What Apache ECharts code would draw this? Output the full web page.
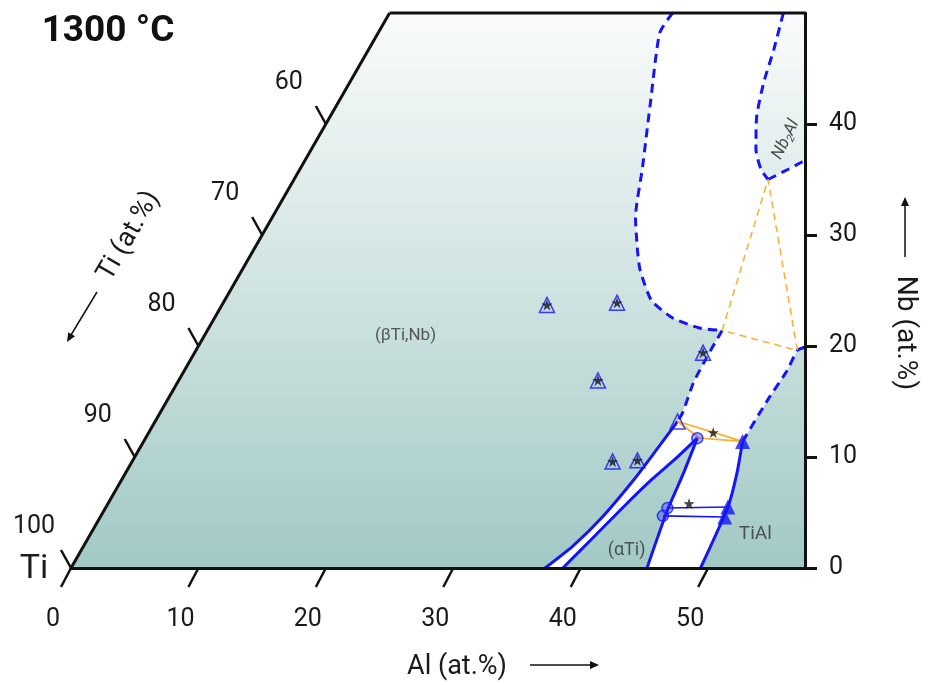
<!DOCTYPE html>
<html>
<head>
<meta charset="utf-8">
<script src="https://cdn.jsdelivr.net/npm/echarts@6/dist/echarts.min.js"></script>
<style>
  html, body { margin: 0; padding: 0; background: #fff; }
  #main { width: 931px; height: 685px; }
</style>
</head>
<body>
<div id="main"></div>
<script>
// all compositions are [Al, Nb] in at.%, Ti = 100 - Al - Nb
const alTicks = [0, 10, 20, 30, 40, 50];
const tiTicks = [100, 90, 80, 70, 60];
const nbTickStep = 10;

// phase boundaries
const betaBoundary = [[22.2, 50], [22.1, 48.2], [24.4, 42.2], [26.8, 36.1], [28.5, 31.6], [30.1, 28.7], [31.2, 26.9], [33.5, 24.1], [36.0, 22.5], [38.6, 21.6], [40.4, 21.4]];
const betaTiAlBoundary = [[40.4, 21.4], [40.4, 19.0], [40.5, 16.7], [41.0, 14.0], [41.0, 13.2]];
const betaAlphaLeft = [[41.0, 13.2], [40.6, 10.5], [40.2, 8.0], [39.4, 4.6], [38.4, 2.0], [37.2, 0]];
const betaAlphaRight = [[43.3, 11.7], [42.5, 9.8], [41.6, 8.0], [40.6, 5.5], [39.7, 3.0], [38.6, 0]];
const alphaTiAl = [[43.3, 11.7], [43.8, 8.5], [44.2, 5.2], [45.2, 0]];
const tiAlLeft = [[47.0, 11.4], [48.0, 8.5], [48.8, 5.5], [49.4, 0]];
const tiAlUpper = [[47.0, 11.4], [47.1, 15.1], [47.3, 17.8], [47.2, 19.6], [47.65, 19.9]];
const nb2AlLeft = [[30.9, 50], [31.8, 46.7], [32.5, 43.7], [33.5, 40.6], [34.9, 37.7], [36.2, 35.9], [37.2, 35.0]];
const nb2AlLower = [[37.2, 35.0], [38.3, 35.9], [39.1, 36.6], [39.25, 36.7]];

// tie triangles and tie lines
const tieTriangleUpper = [[40.4, 21.4], [37.2, 35.0], [47.2, 19.6]];
const tieTriangleLower = [[41.0, 13.2], [43.5, 11.7], [47.0, 11.4]];
const tieLines = [[[44.1, 5.4], [48.8, 5.5]], [[44.1, 4.7], [49.0, 4.6]]];

// alloy compositions / measured phases
const betaSamples = [[25.5, 23.7], [30.9, 23.9], [32.9, 16.9], [39.9, 19.4], [37.7, 9.6], [39.6, 9.7]];
const alloyStars = [[44.3, 12.2], [45.6, 5.8]];
const openTriangles = [[41.0, 13.2]];
const alphaPhase = [[43.3, 11.7], [44.1, 5.4], [44.1, 4.7]];
const tiAlPhase = [[47.0, 11.4], [48.8, 5.5], [49.0, 4.6]];

const XMAX = 57.6;   // right edge in Al + Nb/2
const NBMAX = 50;

const BLUE = '#1515f5';
const ORANGE = '#f5b335';
const FONT = 'Roboto';
const STAR = 'path://M50 0L61.8 35.3L99 35.3L69 57.1L80.4 92.7L50 70.9L19.6 92.7L31 57.1L1 35.3L38.2 35.3Z';

const toXY = p => [p[0] + p[1] / 2, p[1]];
const rev = a => a.slice().reverse();

const whiteRegions = [
  betaBoundary.concat(betaTiAlBoundary.slice(1), tiAlUpper, [[XMAX - 36.7 / 2, 36.7]], rev(nb2AlLower).slice(1), rev(nb2AlLeft).slice(1)),
  betaAlphaLeft.concat(rev(betaAlphaRight)),
  alphaTiAl.concat(rev(tiAlLeft)),
  tieTriangleLower
];

function renderRegions(params, api) {
  const c = p => api.coord(toXY(p));
  const children = [{
    type: 'polygon',
    shape: { points: [c([0, 0]), c([0, NBMAX]), c([XMAX - NBMAX / 2, NBMAX]), c([XMAX, 0])] },
    style: {
      fill: new echarts.graphic.LinearGradient(0, 0, 0, 1, [
        { offset: 0, color: '#f9fbfb' },
        { offset: 0.5, color: '#cfe3e1' },
        { offset: 1, color: '#a2c9c5' }
      ])
    }
  }];
  whiteRegions.forEach(r => children.push({ type: 'polygon', shape: { points: r.map(c) }, style: { fill: '#fff' } }));
  return { type: 'group', children };
}

function renderFrame(params, api) {
  const c = p => api.coord(toXY(p));
  const line = (a, b, w) => ({ type: 'line', shape: { x1: a[0], y1: a[1], x2: b[0], y2: b[1] }, style: { stroke: '#111', lineWidth: w } });
  const text = (s, x, y, size) => ({ type: 'text', x, y, style: { text: s, fontSize: size, fontFamily: FONT, fill: '#1a1a1a', align: 'center', verticalAlign: 'middle' } });
  const children = [];
  // Ti edge and top edge
  children.push(line(c([0, 0]), c([0, NBMAX]), 3));
  children.push(line(c([0, NBMAX]), c([XMAX - NBMAX / 2, NBMAX]), 3));
  tiTicks.forEach(t => {
    const b = c([0, 100 - t]);
    children.push(line(b, [b[0] - 10, b[1] - 18], 2.5));
    children.push(text(String(t), b[0] - 37, b[1] - 41, 25));
  });
  alTicks.forEach(t => {
    const b = c([t, 0]);
    children.push(line(b, [b[0] - 10, b[1] + 19], 2.5));
    children.push(text(String(t), b[0] - 18, b[1] + 52, 25));
  });
  return { type: 'group', children };
}

function lineSeries(pts, color, width, type) {
  return {
    type: 'line', data: pts.map(toXY), showSymbol: false, smooth: 0.2, silent: true, z: 3,
    lineStyle: { color, width, type }
  };
}

function arrowHead(tip, dx, dy) {
  // dx, dy: unit vector pointing toward the tip
  const L = 9, W = 4;
  const bx = tip[0] - dx * L, by = tip[1] - dy * L;
  return { type: 'polygon', shape: { points: [tip, [bx - dy * W, by + dx * W], [bx + dy * W, by - dx * W]] }, style: { fill: '#111' } };
}

const chart = echarts.init(document.getElementById('main'), null, { renderer: 'canvas' });

chart.setOption({
  animation: false,
  grid: { left: 71, right: 126, top: 13, bottom: 117 },
  xAxis: {
    type: 'value', min: 0, max: XMAX, z: 10,
    axisLine: { onZero: false, lineStyle: { color: '#111', width: 3 } },
    axisTick: { show: false }, axisLabel: { show: false }, splitLine: { show: false }
  },
  yAxis: {
    type: 'value', position: 'right', min: 0, max: NBMAX, interval: nbTickStep, z: 10,
    axisLine: { show: true, onZero: false, lineStyle: { color: '#111', width: 3 } },
    axisTick: { show: true, inside: false, length: 12, lineStyle: { color: '#111', width: 3 } },
    axisLabel: { margin: 24, fontSize: 25, fontFamily: FONT, color: '#1a1a1a', showMaxLabel: false },
    splitLine: { show: false }
  },
  graphic: [
    { type: 'text', x: 108, y: 32, style: { text: '1300 °C', fontSize: 37, fontWeight: 'bold', fontFamily: FONT, fill: '#111', align: 'center', verticalAlign: 'middle' } },
    { type: 'text', x: 34, y: 569, style: { text: 'Ti', fontSize: 34, fontFamily: FONT, fill: '#1a1a1a', align: 'center', verticalAlign: 'middle' } },
    { type: 'text', x: 457, y: 667, style: { text: 'Al (at.%)', fontSize: 27, fontFamily: FONT, fill: '#1a1a1a', align: 'center', verticalAlign: 'middle' } },
    { type: 'line', shape: { x1: 530, y1: 665, x2: 592, y2: 665 }, style: { stroke: '#111', lineWidth: 1.5 } },
    arrowHead([599, 665], 1, 0),
    { type: 'text', x: 905, y: 333, rotation: -Math.PI / 2, style: { text: 'Nb (at.%)', fontSize: 28, fontFamily: FONT, fill: '#1a1a1a', align: 'center', verticalAlign: 'middle' } },
    { type: 'line', shape: { x1: 905, y1: 257, x2: 905, y2: 204 }, style: { stroke: '#111', lineWidth: 1.5 } },
    arrowHead([905, 197], 0, -1),
    { type: 'text', x: 129, y: 236, rotation: Math.PI / 3, style: { text: 'Ti (at.%)', fontSize: 27, fontFamily: FONT, fill: '#1a1a1a', align: 'center', verticalAlign: 'middle' } },
    { type: 'line', shape: { x1: 97, y1: 292, x2: 71, y2: 335 }, style: { stroke: '#111', lineWidth: 1.5 } },
    arrowHead([67, 342], -0.515, 0.857)
  ],
  series: [
    { type: 'custom', coordinateSystem: 'cartesian2d', data: [[0, 0]], renderItem: renderRegions, silent: true, z: 1 },
    lineSeries(betaBoundary, BLUE, 3, [9, 6]),
    lineSeries(betaTiAlBoundary, BLUE, 3, [9, 6]),
    lineSeries(tiAlUpper, BLUE, 3, [9, 6]),
    lineSeries(nb2AlLeft, BLUE, 3, [9, 6]),
    lineSeries(nb2AlLower, BLUE, 3, [9, 6]),
    lineSeries(betaAlphaLeft, BLUE, 3, 'solid'),
    lineSeries(betaAlphaRight, BLUE, 3, 'solid'),
    lineSeries(alphaTiAl, BLUE, 3, 'solid'),
    lineSeries(tiAlLeft, BLUE, 3, 'solid'),
    Object.assign(lineSeries(tieTriangleUpper.concat([tieTriangleUpper[0]]), ORANGE, 1.6, [7, 5]), { smooth: false }),
    Object.assign(lineSeries(tieTriangleLower.concat([tieTriangleLower[0]]), ORANGE, 1.8, 'solid'), { smooth: false }),
    ...tieLines.map(t => Object.assign(lineSeries(t, BLUE, 1.6, 'solid'), { smooth: false })),
    { type: 'custom', coordinateSystem: 'cartesian2d', data: [[0, 0]], renderItem: renderFrame, silent: true, z: 8 },
    {
      type: 'scatter', data: betaSamples.map(toXY), symbol: 'triangle', symbolSize: 15, z: 5, silent: true,
      itemStyle: { color: 'rgba(150,170,255,0.25)', borderColor: BLUE, borderWidth: 1.5 }
    },
    {
      type: 'scatter', data: openTriangles.map(toXY), symbol: 'triangle', symbolSize: 15, z: 5, silent: true,
      itemStyle: { color: 'rgba(255,255,255,0)', borderColor: BLUE, borderWidth: 1.5 }
    },
    {
      type: 'scatter', data: alphaPhase.map(toXY), symbol: 'circle', symbolSize: 11, z: 5, silent: true,
      itemStyle: { color: 'rgba(40,40,255,0.45)', borderColor: BLUE, borderWidth: 1.5 }
    },
    {
      type: 'scatter', data: tiAlPhase.map(toXY), symbol: 'triangle', symbolSize: 15, z: 5, silent: true,
      itemStyle: { color: BLUE }
    },
    {
      type: 'scatter', data: betaSamples.concat(alloyStars).map(toXY), symbol: STAR, symbolSize: 11, z: 6, silent: true,
      itemStyle: { color: '#111' }
    },
    {
      type: 'scatter', symbolSize: 0, z: 7, silent: true,
      label: { show: true, position: 'inside', formatter: '{b}', fontFamily: FONT, color: '#333', fontSize: 17 },
      data: [
        { name: '(βTi,Nb)', value: toXY([15.8, 20.9]) },
        { name: '(αTi)', value: toXY([42.8, 1.6]), label: { fontSize: 18 } },
        { name: 'TiAl', value: toXY([52.2, 3.0]), label: { fontSize: 19 } },
        {
          name: 'Nb2Al', value: toXY([36.8, 38.6]),
          label: {
            rotate: 64, formatter: '{a|Nb}{s|2}{a|Al}',
            rich: {
              a: { fontSize: 17, fontStyle: 'italic', fontFamily: FONT, color: '#222' },
              s: { fontSize: 11, fontStyle: 'italic', fontFamily: FONT, color: '#222', verticalAlign: 'bottom', padding: [9, 0, 0, 0] }
            }
          }
        }
      ]
    }
  ]
});
</script>
</body>
</html>
